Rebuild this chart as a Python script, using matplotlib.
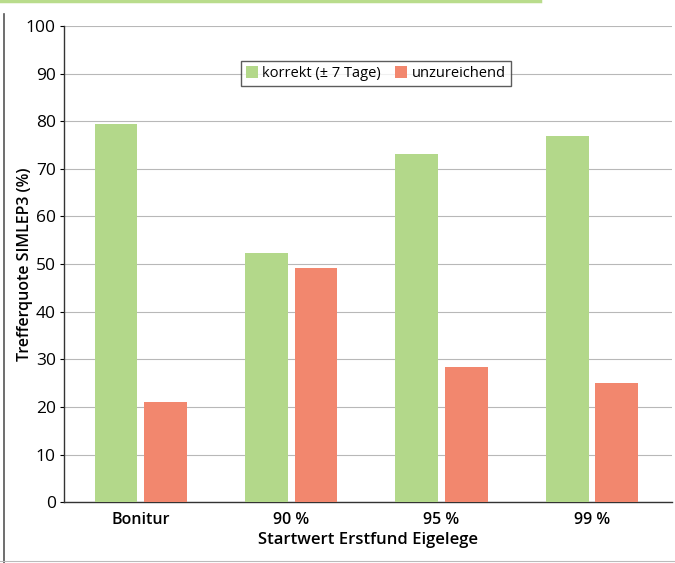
import matplotlib
matplotlib.use("Agg")
import matplotlib.pyplot as plt
import numpy as np
from matplotlib.lines import Line2D

categories = ["Bonitur", "90 %", "95 %", "99 %"]
korrekt = [79.5, 52.3, 73.2, 76.8]
unzureichend = [21.0, 49.2, 28.3, 25.0]
series_labels = ["korrekt (± 7 Tage)", "unzureichend"]
yticks = list(range(0, 101, 10))

green = "#b3d88a"
red = "#f2876e"

plt.rcParams["font.family"] = ["Open Sans", "DejaVu Sans"]

fig = plt.figure(figsize=(6.75, 5.63), dpi=100)
ax = fig.add_axes([0.095, 0.108, 0.9, 0.846])

x = np.arange(len(categories))
w = 0.285
off = 0.165
ax.bar(x - off, korrekt, width=w, color=green, label=series_labels[0], zorder=3)
ax.bar(x + off, unzureichend, width=w, color=red, label=series_labels[1], zorder=3)

ax.set_xlim(-0.51, 3.53)
ax.set_ylim(0, 100)
ax.set_yticks(yticks)
ax.set_xticks(x)
ax.set_xticklabels(categories, fontsize=11.5, fontweight="semibold")
ax.tick_params(axis="y", labelsize=12.5, length=3, width=0.8, direction="out", pad=3)
ax.tick_params(axis="x", length=0, pad=7)
ax.yaxis.grid(True, color="#b8b8b8", linewidth=0.8, zorder=0)
ax.set_axisbelow(True)

for s in ["top", "right"]:
    ax.spines[s].set_visible(False)
ax.spines["left"].set_color("#333333")
ax.spines["left"].set_linewidth(1.0)
ax.spines["bottom"].set_color("#333333")
ax.spines["bottom"].set_linewidth(1.0)

ax.set_ylabel("Trefferquote SIMLEP3 (%)", fontsize=11.5, fontweight="semibold")
ax.yaxis.set_label_coords(-0.052, 0.5)
ax.set_xlabel("Startwert Erstfund Eigelege", fontsize=12, fontweight="semibold", labelpad=3)

leg = ax.legend(loc="center", bbox_to_anchor=(0.513, 0.9), ncol=2, frameon=True,
                fancybox=False, edgecolor="#333333", fontsize=10.5,
                handlelength=0.8, handleheight=0.8, handletextpad=0.3,
                columnspacing=1.0, borderpad=0.35)
leg.get_frame().set_linewidth(1.0)

# page frame: left rule, bottom rule and green top band
fig.add_artist(Line2D([0.006, 0.006], [0.0, 0.975], transform=fig.transFigure,
                      color="#555555", linewidth=1.2))
fig.add_artist(Line2D([0.0, 1.0], [0.003, 0.003], transform=fig.transFigure,
                      color="#bbbbbb", linewidth=0.8))
fig.add_artist(Line2D([0.0, 0.8], [0.998, 0.998], transform=fig.transFigure,
                      color="#b9dc8c", linewidth=2.5))

fig.savefig("out.png", dpi=100)
